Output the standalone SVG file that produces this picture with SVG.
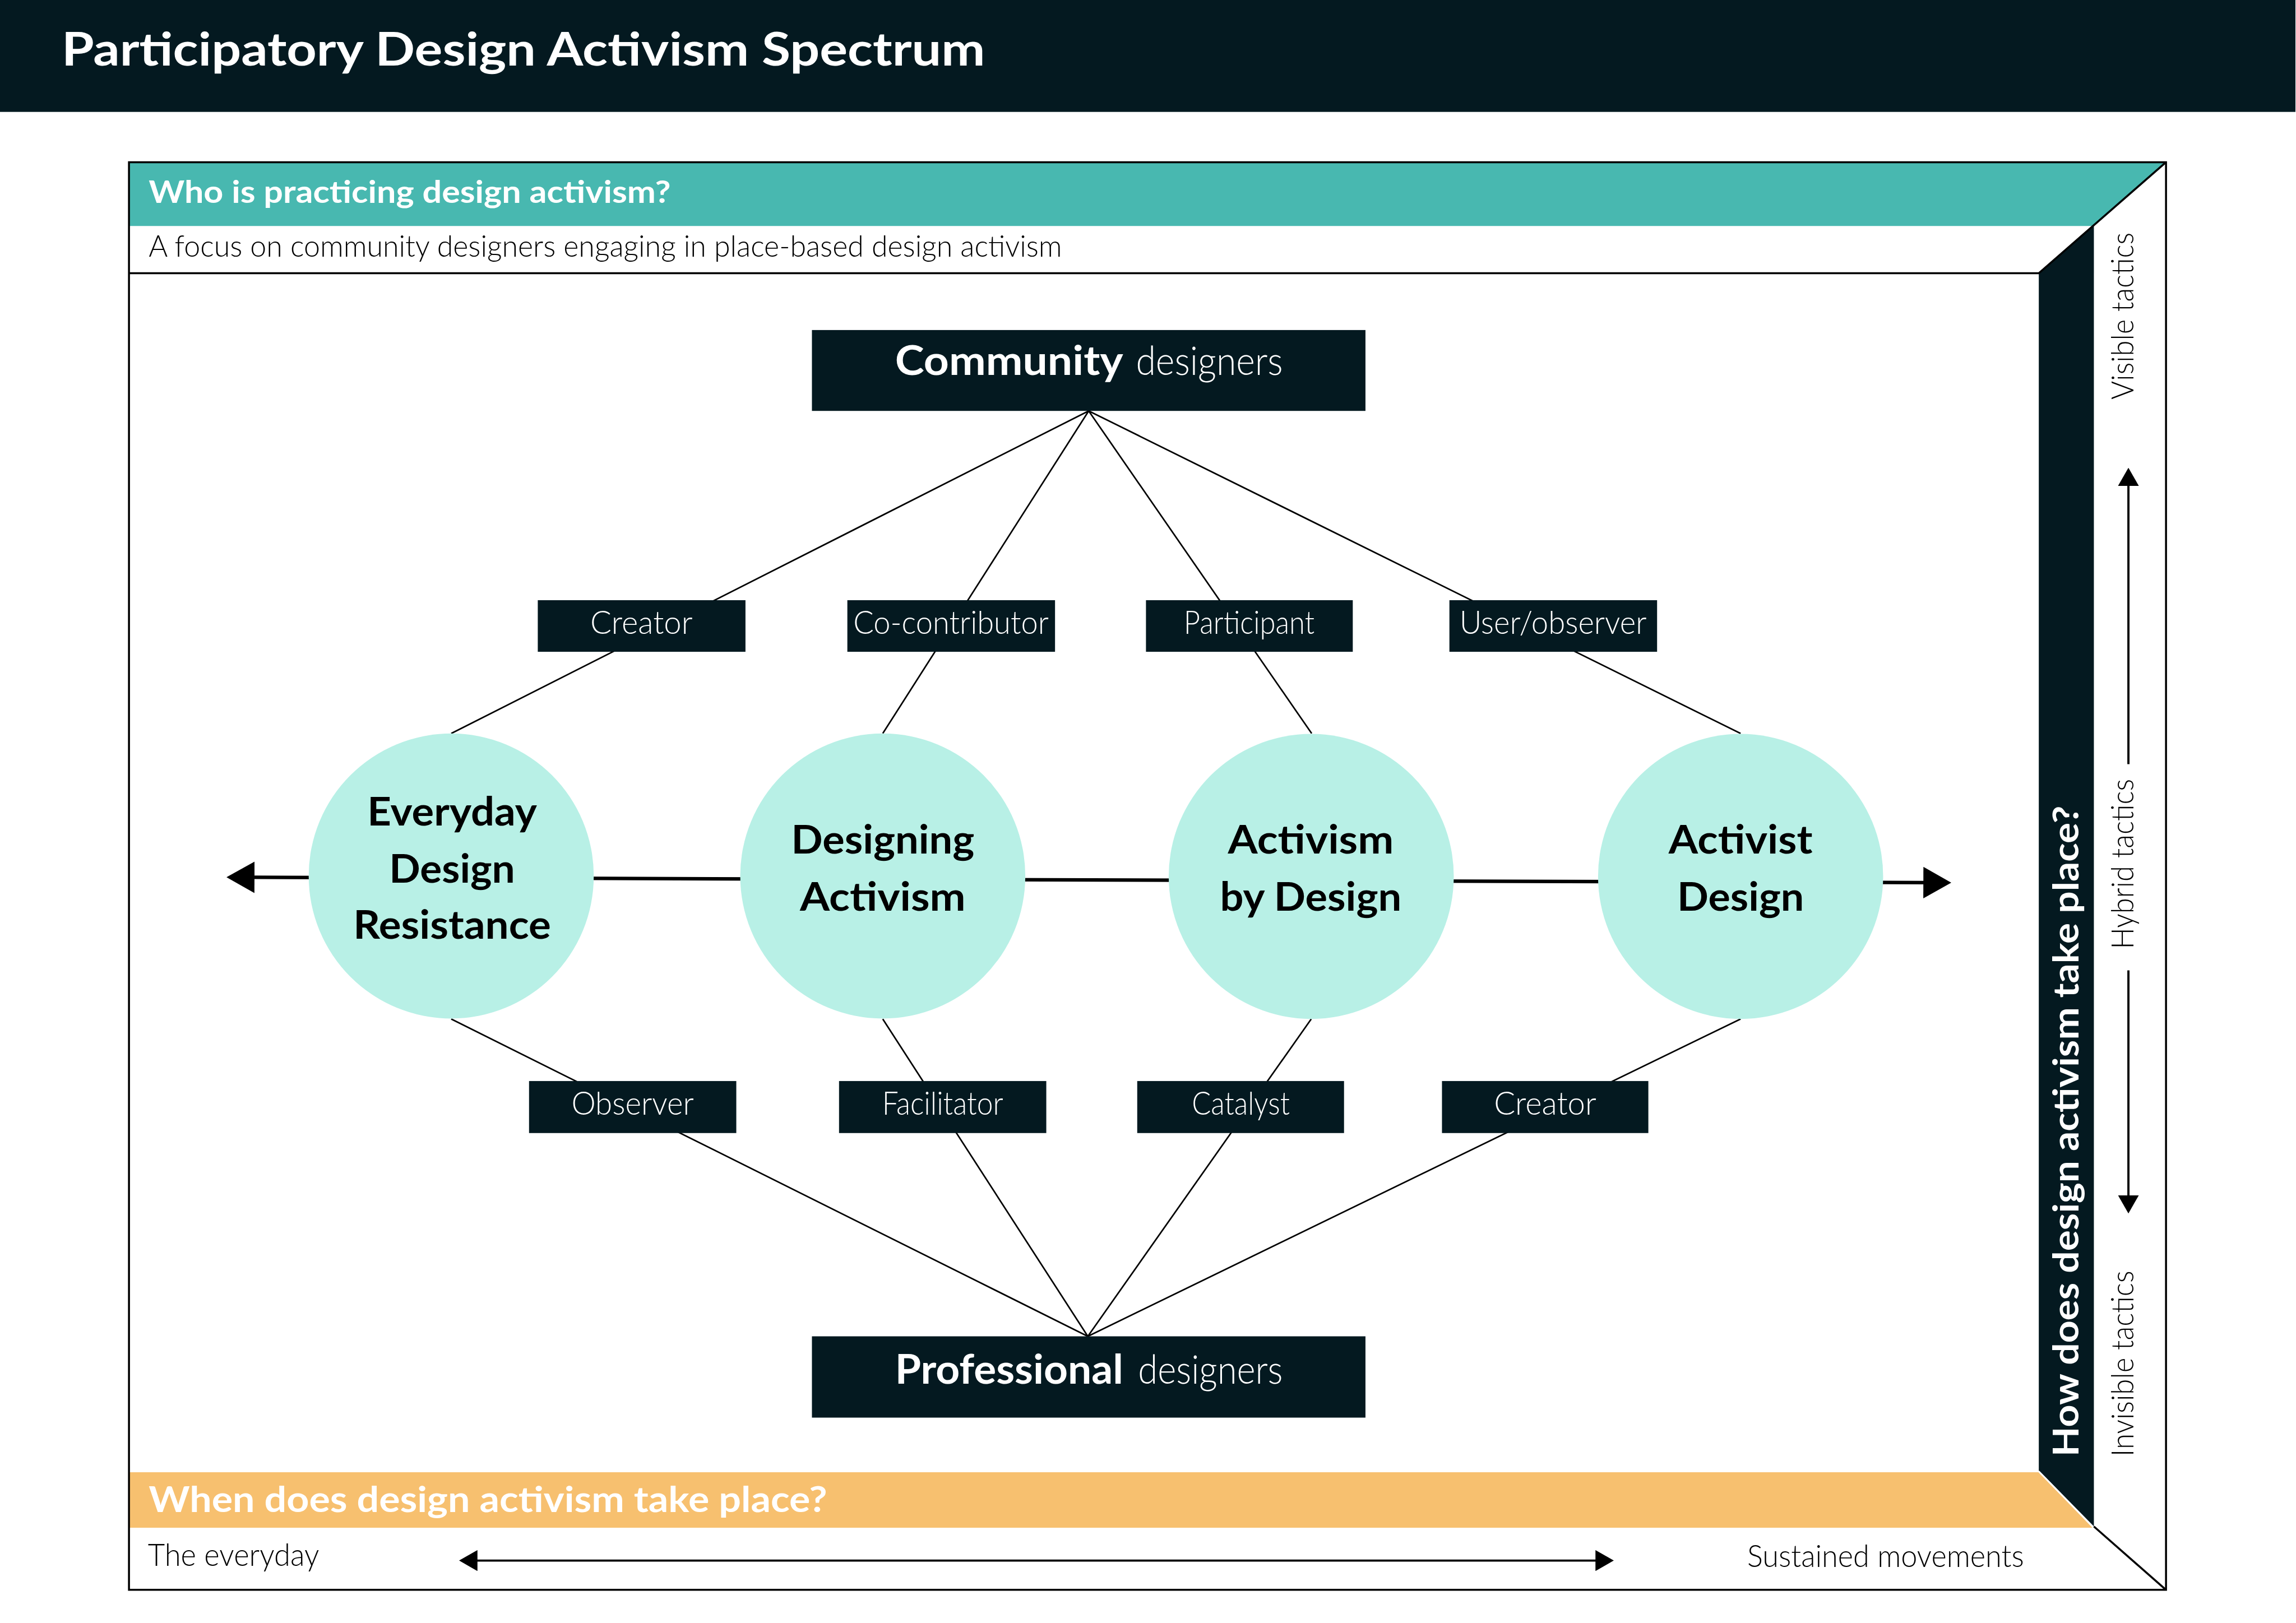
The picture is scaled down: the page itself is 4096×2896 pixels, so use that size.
<svg xmlns="http://www.w3.org/2000/svg" width="4096" height="2896" viewBox="0 0 4096 2896">
<style>
text{font-family:Lato,"Open Sans","Liberation Sans",sans-serif}
.dk{fill:#041920}
.wb{fill:#fff;font-weight:700}
.lbl{fill:#fff;font-weight:300;font-size:74px;text-anchor:middle}
.ct{fill:#000;font-weight:700;font-size:90px;text-anchor:middle}
.cf{fill:#B8F0E6}
.ln{stroke:#000;stroke-width:3.5;fill:none}
.fr{stroke:#000;stroke-width:4.5;fill:none}
.tac{fill:#000;font-weight:300;font-size:70px}
.nb{fill:#fff;font-weight:700;font-size:92px}
.nl{fill:#fff;font-weight:300;font-size:92px}
</style>
<defs>
<marker id="big" viewBox="0 0 64 72" markerUnits="userSpaceOnUse" markerWidth="64" markerHeight="72" refX="1" refY="36" orient="auto-start-reverse"><path d="M0,0L64,36L0,72Z" fill="#000"/></marker>
<marker id="sm" viewBox="0 0 42 48" markerUnits="userSpaceOnUse" markerWidth="42" markerHeight="48" refX="1" refY="24" orient="auto-start-reverse"><path d="M0,0L42,24L0,48Z" fill="#000"/></marker>
</defs>
<rect width="4096" height="2896" fill="#fff"/>
<g transform="scale(0.78)">
<g id="title">
<rect x="0" y="0" width="5250" height="256" class="dk"/>
<text x="141" y="150" class="wb" font-size="106" textLength="2112" lengthAdjust="spacingAndGlyphs">Participatory Design Activism Spectrum</text>
</g>
<g id="frame">
<polygon points="295,371 4954,371 4789,517 295,517" fill="#48B8B0"/>
<text x="340" y="464" class="wb" font-size="72" textLength="1194" lengthAdjust="spacingAndGlyphs">Who is practicing design activism?</text>
<text x="340" y="587" fill="#000" font-weight="300" font-size="68" textLength="2089" lengthAdjust="spacingAndGlyphs">A focus on community designers engaging in place-based design activism</text>
<polygon points="4663,625 4789,517 4789,3492 4663,3364" class="dk"/>
<polygon points="295,3368 4663,3368 4786,3495 295,3495" fill="#F7C06F"/>
<line x1="4663" y1="3366" x2="4788" y2="3494" stroke="#fff" stroke-width="4"/>
<text x="340" y="3459" class="wb" font-size="82" textLength="1552" lengthAdjust="spacingAndGlyphs">When does design activism take place?</text>
<text x="338" y="3582" fill="#000" font-weight="300" font-size="70" textLength="392" lengthAdjust="spacingAndGlyphs">The everyday</text>
<text x="3996" y="3584" fill="#000" font-weight="300" font-size="70" textLength="633" lengthAdjust="spacingAndGlyphs">Sustained movements</text>
<line x1="1091" y1="3570" x2="3650" y2="3570" stroke="#000" stroke-width="5" marker-start="url(#sm)" marker-end="url(#sm)"/>
<text transform="translate(4754,3332) rotate(-90)" class="wb" font-size="82" textLength="1489" lengthAdjust="spacingAndGlyphs">How does design activism take place?</text>
<text transform="translate(4880,914) rotate(-90)" class="tac" textLength="382" lengthAdjust="spacingAndGlyphs">Visible tactics</text>
<text transform="translate(4880,2171) rotate(-90)" class="tac" textLength="389" lengthAdjust="spacingAndGlyphs">Hybrid tactics</text>
<text transform="translate(4880,3332) rotate(-90)" class="tac" textLength="425" lengthAdjust="spacingAndGlyphs">Invisible tactics</text>
<line x1="4868" y1="1111" x2="4868" y2="1748" stroke="#000" stroke-width="5" marker-start="url(#sm)"/>
<line x1="4868" y1="2220" x2="4868" y2="2735" stroke="#000" stroke-width="5" marker-end="url(#sm)"/>
<path class="fr" d="M295,371H4954V3637H295Z"/>
<path class="fr" d="M295,625H4663L4954,371"/>
<path class="fr" d="M4789,3492L4954,3637"/>
</g>
<g id="connectors">
<path class="ln" d="M2490,940L1032,1678M2490,940L2019,1678M2490,940L3000,1678M2490,940L3981,1678"/>
<path class="ln" d="M1032,2331L2488,3057M2019,2331L2488,3057M2999,2331L2488,3057M3981,2331L2488,3057"/>
<path d="M581,2007L4400,2019" stroke="#000" stroke-width="8" fill="none" marker-start="url(#big)" marker-end="url(#big)"/>
</g>
<g id="community">
<rect x="1857" y="755" width="1266" height="185" class="dk"/>
<text x="2047" y="858" class="nb" textLength="522" lengthAdjust="spacingAndGlyphs">Community</text>
<text x="2598" y="858" class="nl" textLength="336" lengthAdjust="spacingAndGlyphs">designers</text>
</g>
<g id="professional">
<rect x="1857" y="3057" width="1266" height="186" class="dk"/>
<text x="2047" y="3166" class="nb" textLength="522" lengthAdjust="spacingAndGlyphs">Professional</text>
<text x="2603" y="3166" class="nl" textLength="331" lengthAdjust="spacingAndGlyphs">designers</text>
</g>
<g id="lbl-creator-top"><rect x="1230" y="1373" width="475" height="118" class="dk"/><text x="1467" y="1450" class="lbl" textLength="234" lengthAdjust="spacingAndGlyphs">Creator</text></g>
<g id="lbl-cocontributor"><rect x="1938" y="1373" width="475" height="118" class="dk"/><text x="2175" y="1450" class="lbl" textLength="447" lengthAdjust="spacingAndGlyphs">Co-contributor</text></g>
<g id="lbl-participant"><rect x="2621" y="1373" width="473" height="118" class="dk"/><text x="2857" y="1450" class="lbl" textLength="299" lengthAdjust="spacingAndGlyphs">Participant</text></g>
<g id="lbl-userobserver"><rect x="3315" y="1373" width="475" height="118" class="dk"/><text x="3552" y="1450" class="lbl" textLength="428" lengthAdjust="spacingAndGlyphs">User/observer</text></g>
<g id="lbl-observer"><rect x="1210" y="2473" width="474" height="119" class="dk"/><text x="1447" y="2550" class="lbl" textLength="280" lengthAdjust="spacingAndGlyphs">Observer</text></g>
<g id="lbl-facilitator"><rect x="1919" y="2473" width="474" height="119" class="dk"/><text x="2156" y="2550" class="lbl" textLength="277" lengthAdjust="spacingAndGlyphs">Facilitator</text></g>
<g id="lbl-catalyst"><rect x="2601" y="2473" width="473" height="119" class="dk"/><text x="2838" y="2550" class="lbl" textLength="224" lengthAdjust="spacingAndGlyphs">Catalyst</text></g>
<g id="lbl-creator-bottom"><rect x="3298" y="2473" width="472" height="119" class="dk"/><text x="3534" y="2550" class="lbl" textLength="234" lengthAdjust="spacingAndGlyphs">Creator</text></g>
<g id="everyday-design-resistance">
<circle cx="1032" cy="2004" r="326" class="cf"/>
<text x="1034" y="1888" class="ct" textLength="388" lengthAdjust="spacingAndGlyphs">Everyday</text>
<text x="1034" y="2019" class="ct" textLength="288" lengthAdjust="spacingAndGlyphs">Design</text>
<text x="1034" y="2148" class="ct" textLength="452" lengthAdjust="spacingAndGlyphs">Resistance</text>
</g>
<g id="designing-activism">
<circle cx="2019" cy="2004" r="326" class="cf"/>
<text x="2019" y="1952" class="ct" textLength="419" lengthAdjust="spacingAndGlyphs">Designing</text>
<text x="2019" y="2083" class="ct" textLength="379" lengthAdjust="spacingAndGlyphs">Activism</text>
</g>
<g id="activism-by-design">
<circle cx="2999" cy="2005" r="326" class="cf"/>
<text x="2998" y="1953" class="ct" textLength="379" lengthAdjust="spacingAndGlyphs">Activism</text>
<text x="2998" y="2083" class="ct" textLength="415" lengthAdjust="spacingAndGlyphs">by Design</text>
</g>
<g id="activist-design">
<circle cx="3981" cy="2005" r="326" class="cf"/>
<text x="3981" y="1953" class="ct" textLength="329" lengthAdjust="spacingAndGlyphs">Activist</text>
<text x="3981" y="2083" class="ct" textLength="290" lengthAdjust="spacingAndGlyphs">Design</text>
</g>
</g>
</svg>
